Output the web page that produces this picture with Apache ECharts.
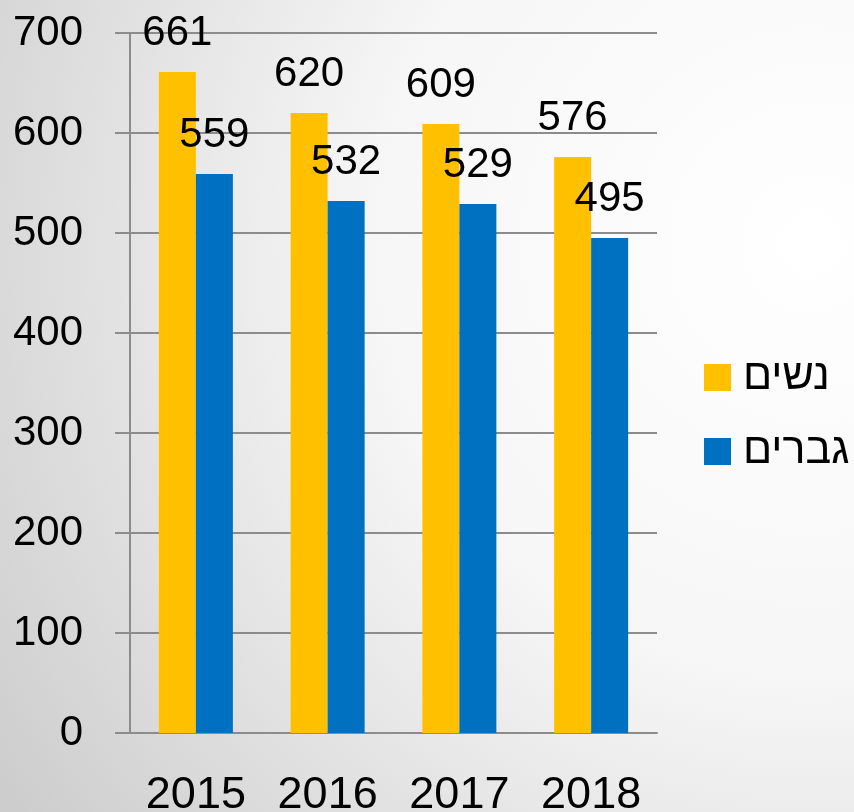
<!DOCTYPE html>
<html lang="he">
<head>
<meta charset="utf-8">
<title>נשים / גברים 2015-2018</title>
<script src="https://cdn.jsdelivr.net/npm/echarts@6/dist/echarts.min.js"></script>
<style>
  html, body { margin: 0; padding: 0; }
  #chart { width: 854px; height: 812px; }
</style>
</head>
<body>
<div id="chart"></div>
<script>
  // data
  var years = ['2015', '2016', '2017', '2018'];
  var women = [661, 620, 609, 576];   // נשים
  var men = [559, 532, 529, 495];     // גברים

  var fontFam = '"Liberation Sans", "DejaVu Sans", sans-serif';
  var gridCol = '#8c8c8c';

  var chart = echarts.init(document.getElementById('chart'));
  chart.setOption({
    backgroundColor: {
      type: 'radial', x: 0.95, y: 0.3, r: 1.2,
      colorStops: [
        { offset: 0, color: '#ffffff' },
        { offset: 0.45, color: '#f6f6f6' },
        { offset: 1, color: '#cdcdcd' }
      ]
    },
    animation: false,
    textStyle: { fontFamily: fontFam, color: '#000' },
    grid: { left: 130, right: 197, top: 33, bottom: 79, outerBoundsMode: 'none' },
    legend: {
      orient: 'vertical',
      left: 704, top: 356,
      padding: 0,
      icon: 'rect',
      itemWidth: 27, itemHeight: 27,
      itemGap: 31,
      textStyle: { fontSize: 43, fontFamily: fontFam, color: '#000', padding: [0, 0, 0, 7] },
      data: ['נשים', 'גברים']
    },
    xAxis: {
      type: 'category',
      data: years,
      axisLine: { lineStyle: { color: gridCol, width: 2 } },
      axisTick: { length: 15, lineStyle: { color: gridCol, width: 2 } },
      axisLabel: { fontSize: 45, color: '#000', margin: 40 }
    },
    yAxis: {
      type: 'value',
      min: 0, max: 700, interval: 100,
      axisLine: { show: true, lineStyle: { color: gridCol, width: 2 } },
      axisTick: { show: true, length: 15, lineStyle: { color: gridCol, width: 2 } },
      splitLine: { lineStyle: { color: gridCol, width: 2 } },
      axisLabel: { fontSize: 42, color: '#000', margin: 47 }
    },
    series: [
      {
        name: 'נשים', type: 'bar', data: women,
        barWidth: 37, barGap: '0%',
        itemStyle: { color: '#FFC000' },
        label: { show: true, position: 'top', distance: 18, fontSize: 42, color: '#000' }
      },
      {
        name: 'גברים', type: 'bar', data: men,
        barWidth: 37,
        itemStyle: { color: '#0070C0' },
        label: { show: true, position: 'top', distance: 18, fontSize: 42, color: '#000' }
      }
    ]
  });
</script>
</body>
</html>
